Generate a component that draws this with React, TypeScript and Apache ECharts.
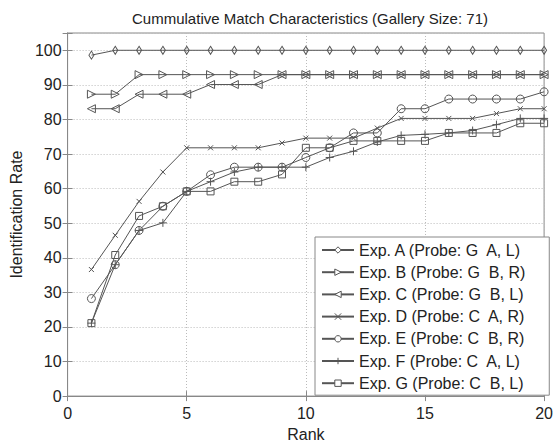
import React, { useEffect, useRef } from "react";
import * as echarts from "echarts";

const ranks = [1, 2, 3, 4, 5, 6, 7, 8, 9, 10, 11, 12, 13, 14, 15, 16, 17, 18, 19, 20];
const expA = [98.6, 100, 100, 100, 100, 100, 100, 100, 100, 100, 100, 100, 100, 100, 100, 100, 100, 100, 100, 100];
const expB = [87.3, 87.3, 92.96, 92.96, 92.96, 92.96, 92.96, 92.96, 92.96, 92.96, 92.96, 92.96, 92.96, 92.96, 92.96, 92.96, 92.96, 92.96, 92.96, 92.96];
const expC = [83.1, 83.1, 87.3, 87.3, 87.3, 90.1, 90.1, 90.1, 92.96, 92.96, 92.96, 92.96, 92.96, 92.96, 92.96, 92.96, 92.96, 92.96, 92.96, 92.96];
const expD = [36.6, 46.5, 56.3, 64.8, 71.8, 71.8, 71.8, 71.8, 73.2, 74.6, 74.6, 74.6, 77.5, 80.3, 80.3, 80.3, 80.3, 81.7, 83.1, 83.1];
const expE = [28.2, 38.0, 47.9, 54.9, 59.2, 64.0, 66.2, 66.2, 66.2, 69.0, 71.8, 76.1, 76.1, 83.1, 83.1, 85.9, 85.9, 85.9, 85.9, 88.0];
const expF = [21.1, 38.0, 47.9, 50.1, 59.2, 62.0, 64.8, 66.2, 66.2, 66.2, 69.0, 70.8, 73.5, 75.4, 75.7, 76.1, 76.8, 78.5, 80.3, 80.3];
const expG = [21.1, 40.8, 52.1, 54.9, 59.2, 59.2, 62.0, 62.0, 64.1, 71.8, 71.8, 73.8, 73.8, 73.8, 73.8, 76.1, 76.1, 76.1, 78.9, 78.9];

const seriesNames = [
  "Exp. A (Probe: G  A, L)",
  "Exp. B (Probe: G  B, R)",
  "Exp. C (Probe: G  B, L)",
  "Exp. D (Probe: C  A, R)",
  "Exp. E (Probe: C  B, R)",
  "Exp. F (Probe: C  A, L)",
  "Exp. G (Probe: C  B, L)",
];
const seriesValues = [expA, expB, expC, expD, expE, expF, expG];
const xTicks = [0, 5, 10, 15, 20];
const yTicks = [0, 10, 20, 30, 40, 50, 60, 70, 80, 90, 100];

const FONT = "Liberation Sans, Arial, sans-serif";
const LINE = "#555";

const symbols: any[] = [
  { symbol: "diamond", symbolSize: [5, 8], symbolRotate: 0 },
  { symbol: "triangle", symbolSize: 8, symbolRotate: -90 },
  { symbol: "triangle", symbolSize: 8, symbolRotate: 90 },
  { symbol: "path://M0,0L10,10M10,0L0,10", symbolSize: 5, symbolRotate: 0 },
  { symbol: "circle", symbolSize: 8, symbolRotate: 0 },
  { symbol: "path://M5,0L5,10M0,5L10,5", symbolSize: 8, symbolRotate: 0 },
  { symbol: "rect", symbolSize: 7, symbolRotate: 0 },
];

export default function App() {
  const ref = useRef<HTMLDivElement>(null);
  useEffect(() => {
    if (!ref.current) return;
    const chart = echarts.init(ref.current, null, { renderer: "svg" });
    const series = seriesNames.map((name, i) => ({
      name,
      type: "line",
      data: ranks.map((r, j) => [r, seriesValues[i][j]]),
      symbol: symbols[i].symbol,
      symbolSize: symbols[i].symbolSize,
      symbolRotate: symbols[i].symbolRotate,
      showAllSymbol: true,
      lineStyle: { color: LINE, width: 1 },
      itemStyle: { color: "rgba(0,0,0,0)", borderColor: LINE, borderWidth: 1 },
      emphasis: { disabled: true },
      z: 3,
    }));
    const axisText = { fontFamily: FONT, fontSize: 16, color: "#222" };
    chart.setOption({
      animation: false,
      backgroundColor: "#fff",
      title: {
        text: "Cummulative Match Characteristics (Gallery Size: 71)",
        left: 305,
        top: 6,
        textAlign: "center",
        textStyle: { fontFamily: FONT, fontSize: 15, fontWeight: "normal", color: "#222" },
      },
      grid: { left: 65, right: 11, top: 33, bottom: 44, show: true, borderColor: "#888", borderWidth: 1, backgroundColor: "transparent" },
      legend: {
        orient: "vertical",
        left: 315,
        top: 237,
        data: seriesNames,
        itemWidth: 32,
        itemHeight: 8,
        itemGap: 6.2,
        padding: [5, 24, 4, 6],
        backgroundColor: "#fff",
        borderColor: "#888",
        borderWidth: 1,
        borderRadius: 0,
        selectedMode: false,
        itemStyle: { color: "#fff", borderColor: LINE, borderWidth: 1 },
        textStyle: { fontFamily: FONT, fontSize: 16, lineHeight: 16, color: "#222" },
        z: 10,
      },
      xAxis: [
        {
          type: "value",
          min: 0,
          max: 20,
          interval: 5,
          name: "Rank",
          nameLocation: "middle",
          nameGap: 29,
          nameTextStyle: axisText,
          axisLine: { show: true, lineStyle: { color: "#888" } },
          axisTick: { show: true, inside: true, length: 5, lineStyle: { color: "#888" } },
          axisLabel: { ...axisText, margin: 9, formatter: (v: number) => (xTicks.includes(v) ? String(v) : "") },
          splitLine: { show: true, lineStyle: { color: "#bbb", type: [1, 2] } },
        },
        {
          type: "value",
          min: 0,
          max: 20,
          interval: 5,
          position: "top",
          axisLine: { show: true, lineStyle: { color: "#888" } },
          axisTick: { show: true, inside: true, length: 5, lineStyle: { color: "#888" } },
          axisLabel: { show: false },
          splitLine: { show: false },
        },
      ],
      yAxis: [
        {
          type: "value",
          min: 0,
          max: 105,
          interval: 10,
          name: "Identification Rate",
          nameLocation: "middle",
          nameGap: 42,
          nameTextStyle: axisText,
          axisLine: { show: true, lineStyle: { color: "#888" } },
          axisTick: { show: true, inside: true, length: 5, lineStyle: { color: "#888" } },
          axisLabel: { ...axisText, margin: 6, formatter: (v: number) => (yTicks.includes(v) ? String(v) : "") },
          splitLine: { show: true, lineStyle: { color: "#bbb", type: [1, 2] } },
        },
        {
          type: "value",
          min: 0,
          max: 105,
          interval: 10,
          position: "right",
          axisLine: { show: true, lineStyle: { color: "#888" } },
          axisTick: { show: true, inside: true, length: 5, lineStyle: { color: "#888" } },
          axisLabel: { show: false },
          splitLine: { show: false },
        },
      ],
      series,
    });
    return () => chart.dispose();
  }, []);
  return <div ref={ref} style={{ width: 556, height: 447, position: "absolute", left: 0, top: 0 }} />;
}
